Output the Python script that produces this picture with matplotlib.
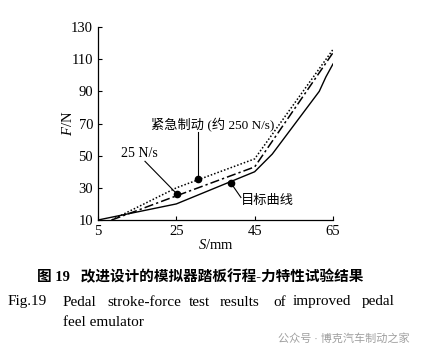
import matplotlib
matplotlib.use("Agg")
import matplotlib.pyplot as plt

FONTS = ["Liberation Serif", "Noto Sans CJK SC", "DejaVu Sans"]
plt.rcParams["font.family"] = FONTS
plt.rcParams["mathtext.fontset"] = "custom"
plt.rcParams["mathtext.it"] = "Liberation Serif:italic"
plt.rcParams["mathtext.rm"] = "Liberation Serif"

# target curve
target_s = [5, 25, 45, 49.5, 61.5, 63.2, 65]
target_f = [10, 20, 40, 51, 90, 99, 107]
# 25 N/s test
slow_s = [8.5, 25, 45, 65]
slow_f = [10, 25, 43, 114]
# emergency braking (~250 N/s)
fast_s = [8.5, 25, 45, 65]
fast_f = [10, 30, 48, 116]

xticks = [5, 25, 45, 65]
yticks = [10, 30, 50, 70, 90, 110, 130]

fig = plt.figure(figsize=(4.24, 3.56), dpi=100)
ax = fig.add_axes([0.2311, 0.382, 0.5542, 0.5421])

ax.plot(target_s, target_f, color="black", lw=1.0)
ax.plot(slow_s, slow_f, color="black", lw=1.1, linestyle=(0, (6, 2, 1.5, 2)))
ax.plot(fast_s, fast_f, color="black", lw=1.1, linestyle=(0, (1, 1.3)))

ax.set_xlim(5, 65)
ax.set_ylim(10, 130)
ax.set_xticks(xticks)
ax.set_yticks(yticks)
ax.tick_params(direction="in", length=3, width=0.8, labelsize=10.5, pad=3.5)
for side in ("top", "right"):
    ax.spines[side].set_visible(False)
for side in ("left", "bottom"):
    ax.spines[side].set_linewidth(0.9)

ax.set_xlabel("$S$/mm", fontsize=10.5, labelpad=0)
ax.set_ylabel("$F$/N", fontsize=10.5, labelpad=-3)

# annotations
ax.plot([30.5], [35.5], "o", color="black", ms=4.5)
ax.plot([30.5, 30.5], [35.5, 64.5], color="black", lw=0.8)
ax.text(34.4, 69, "紧急制动 (约 250 N/s)", fontsize=9.5, ha="center", va="center")

ax.plot([25.2], [26.1], "o", color="black", ms=4.5)
ax.plot([25.2, 17], [26.1, 46.5], color="black", lw=0.8)
ax.text(15.6, 51.6, "25 N/s", fontsize=10, ha="center", va="center")

ax.plot([39], [32.8], "o", color="black", ms=4.5)
ax.plot([39, 41.5], [32.8, 24], color="black", lw=0.8)
ax.text(41.4, 21.6, "目标曲线", fontsize=9.5, ha="left", va="center")

# captions
fig.text(200 / 424, 1 - 277 / 356, "图 19   改进设计的模拟器踏板行程-力特性试验结果",
         fontsize=10.5, fontweight="bold", ha="center", va="center")
words = ["Fig.19", "Pedal", "stroke-force", "test", "results", "of",
         "improved", "pedal"]
word_x = [8, 63, 107, 189, 220, 273, 293, 362]
for w, x in zip(words, word_x):
    fig.text(x / 424, 1 - 302 / 356, w, fontsize=11, ha="left", va="center")
fig.text(63 / 424, 1 - 322 / 356, "feel emulator", fontsize=11, ha="left",
         va="center")
fig.text(410 / 424, 1 - 338 / 356, "公众号 · 博克汽车制动之家", fontsize=8,
         color="#a0a0a0", ha="right", va="center")

fig.savefig("out.png", dpi=100, facecolor="white")
